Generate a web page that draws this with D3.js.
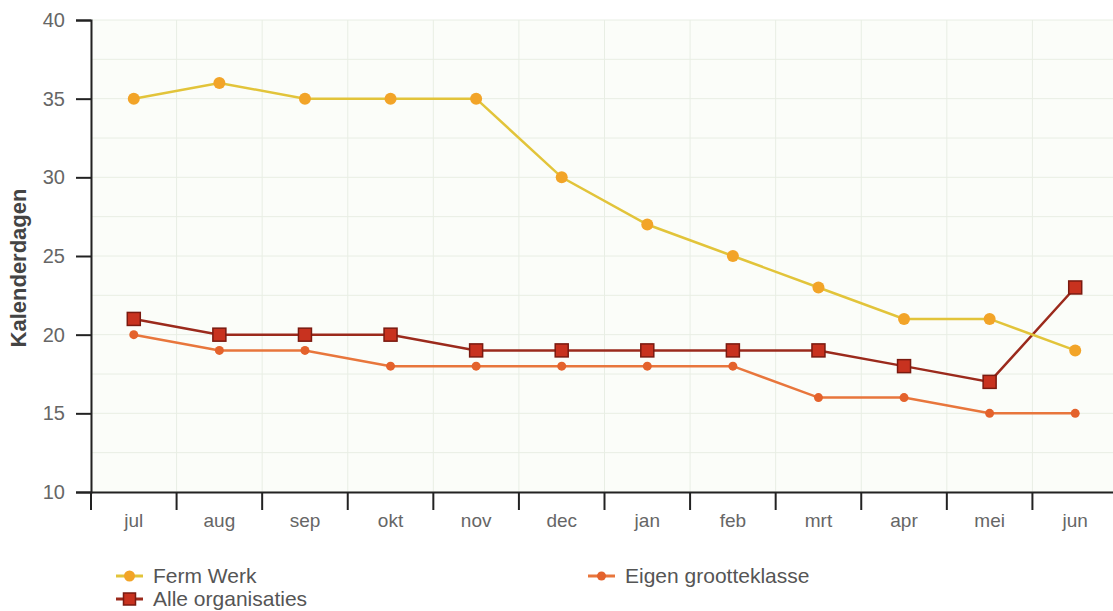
<!DOCTYPE html>
<html><head><meta charset="utf-8">
<script src="https://cdn.jsdelivr.net/npm/d3@7"></script>
<style>body{margin:0;background:#fff;} text{font-family:"Liberation Sans",Arial,sans-serif;}</style>
</head><body>
<svg id="c" width="1113" height="611"></svg>
<script>
const months = ["jul","aug","sep","okt","nov","dec","jan","feb","mrt","apr","mei","jun"];
const fermWerk = [35,36,35,35,35,30,27,25,23,21,21,19];
const alleOrganisaties = [21,20,20,20,19,19,19,19,19,18,17,23];
const eigenGrootteklasse = [20,19,19,18,18,18,18,18,16,16,15,15];
const yTicks = [10,15,20,25,30,35,40];

(function(){
const svg = d3.select("#c");
const pL = 91, pT = 20, pB = 492, pR = 1118;
const x = d3.scaleBand().domain(months).range([pL, pR]);
const y = d3.scaleLinear().domain([10,40]).range([pB, pT]);

svg.append("rect").attr("x",pL).attr("y",pT).attr("width",1113-pL).attr("height",pB-pT).attr("fill","#fbfdf9");
const g = svg.append("g");
d3.range(10,40.1,2.5).forEach(v=>{
  g.append("line").attr("x1",pL).attr("x2",1113).attr("y1",y(v)).attr("y2",y(v))
   .attr("stroke","#e8eee4").attr("stroke-width",1);
});
months.forEach(m=>{
  g.append("line").attr("x1",x(m)).attr("x2",x(m)).attr("y1",pT).attr("y2",pB)
   .attr("stroke","#e8eee4").attr("stroke-width",1);
});

const yAxis = svg.append("g").attr("transform",`translate(${pL},0)`)
  .call(d3.axisLeft(y).tickValues(yTicks).tickSize(15).tickPadding(11));
yAxis.select(".domain").attr("stroke","#222").attr("stroke-width",2);
yAxis.selectAll(".tick line").attr("stroke","#222").attr("stroke-width",2);
yAxis.selectAll(".tick text").attr("font-size",20).attr("fill","#666");

const xAxis = svg.append("g").attr("transform",`translate(0,${pB})`)
  .call(d3.axisBottom(x).tickSize(0).tickPadding(22));
xAxis.select(".domain").attr("stroke","#222").attr("stroke-width",2);
xAxis.selectAll(".tick text").attr("font-size",19).attr("fill","#666");
months.forEach(m=>{
  svg.append("line").attr("x1",x(m)).attr("x2",x(m)).attr("y1",pB).attr("y2",pB+18)
    .attr("stroke","#222").attr("stroke-width",2);
});

svg.append("text").attr("transform","translate(26,268) rotate(-90)")
  .attr("text-anchor","middle").attr("font-size",22).attr("font-weight","bold").attr("fill","#444")
  .text("Kalenderdagen");

const cx = m => x(m) + x.bandwidth()/2;

function series(data, lineColor, width){
  const line = d3.line().x((d,i)=>cx(months[i])).y(d=>y(d));
  svg.append("path").attr("d",line(data)).attr("fill","none").attr("stroke",lineColor).attr("stroke-width",width);
}
series(eigenGrootteklasse,"#e8763c",2.5);
series(alleOrganisaties,"#9b2a1c",2.5);
series(fermWerk,"#e2c43a",2.5);

svg.selectAll(".e").data(eigenGrootteklasse).enter().append("circle")
  .attr("cx",(d,i)=>cx(months[i])).attr("cy",d=>y(d)).attr("r",4.5).attr("fill","#e4622c");
svg.selectAll(".a").data(alleOrganisaties).enter().append("rect")
  .attr("x",(d,i)=>cx(months[i])-6.5).attr("y",d=>y(d)-6.5).attr("width",13).attr("height",13)
  .attr("fill","#c8321f").attr("stroke","#7a1a10").attr("stroke-width",1.5);
svg.selectAll(".f").data(fermWerk).enter().append("circle")
  .attr("cx",(d,i)=>cx(months[i])).attr("cy",d=>y(d)).attr("r",6).attr("fill","#f2a428");

const legend = [
  {name:"Ferm Werk", x:116, y:576, line:"#e2c43a", type:"circle", fill:"#f2a428", r:5.5},
  {name:"Alle organisaties", x:116, y:599, line:"#9b2a1c", type:"square", fill:"#c8321f"},
  {name:"Eigen grootteklasse", x:588, y:576, line:"#e8763c", type:"circle", fill:"#e4622c", r:4.5}
];
legend.forEach(l=>{
  svg.append("line").attr("x1",l.x).attr("x2",l.x+27).attr("y1",l.y).attr("y2",l.y).attr("stroke",l.line).attr("stroke-width",3);
  if(l.type==="circle") svg.append("circle").attr("cx",l.x+13.5).attr("cy",l.y).attr("r",l.r).attr("fill",l.fill);
  else svg.append("rect").attr("x",l.x+7.5).attr("y",l.y-6).attr("width",12).attr("height",12).attr("fill",l.fill).attr("stroke","#7a1a10").attr("stroke-width",1.5);
  svg.append("text").attr("x",l.x+37).attr("y",l.y+7).attr("font-size",21).attr("fill","#555").text(l.name);
});
})();
</script>
</body></html>
